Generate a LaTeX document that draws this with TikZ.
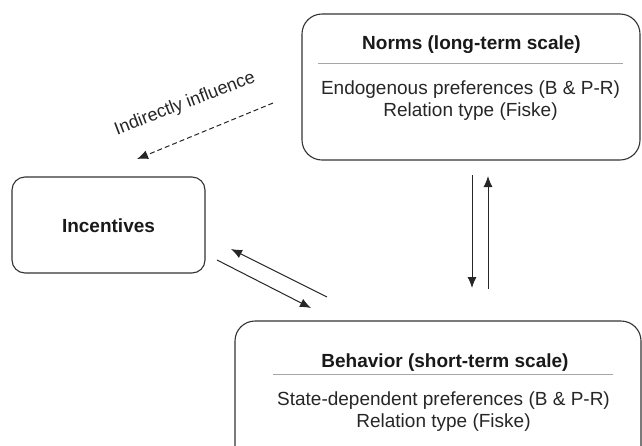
\documentclass[tikz,border=0pt]{standalone}
\usepackage{fontspec}
\setmainfont{Liberation Sans}
\usetikzlibrary{arrows.meta}
\tikzset{
  box/.style={draw=black!80, line width=1.1pt, inner sep=0pt},
  heading/.style={font=\fontsize{19}{23}\selectfont\bfseries, text=black!90, anchor=base},
  body/.style={font=\fontsize{19}{22}\selectfont, text=black!85, anchor=base},
  sepline/.style={draw=black!35, line width=0.8pt},
  flow/.style={-{Latex[length=11pt,width=9pt]}, line width=1pt, draw=black!85},
}
\begin{document}
\begin{tikzpicture}[x=1pt,y=-1pt]
 \useasboundingbox (0,0) rectangle (642,445);
 %
 \node[box, rounded corners=20pt, minimum width=338pt, minimum height=146pt] (norms) at (471,87) {};
 \node[heading] (normstitle) at (471.5,49) {Norms (long-term scale)};
 \draw[sepline] (318,63) -- (623,63);
 \node[body] (normsa) at (470.5,94) {Endogenous preferences (B \& P-R)};
 \node[body] (normsb) at (470.5,116) {Relation type (Fiske)};
 %
 \node[box, rounded corners=13pt, minimum width=193pt, minimum height=96pt] (incentives) at (108.5,225) {};
 \node[heading] (incentivestitle) at (108.5,232) {Incentives};
 %
 \node[box, rounded corners=20pt, minimum width=406pt, minimum height=149pt] (behavior) at (438,395.5) {};
 \node[heading] (behaviortitle) at (445,367) {Behavior (short-term scale)};
 \draw[sepline] (273,374) -- (613,374);
 \node[body] (behaviora) at (443.5,405) {State-dependent preferences (B \& P-R)};
 \node[body] (behaviorb) at (443.5,427) {Relation type (Fiske)};
 %
 \coordinate (nb1) at (472,175);
 \coordinate (nb2) at (472,288);
 \coordinate (bn1) at (488,289);
 \coordinate (bn2) at (488,176);
 \coordinate (ib1) at (217,260);
 \coordinate (ib2) at (311,308);
 \coordinate (bi1) at (327,297);
 \coordinate (bi2) at (231,249);
 \coordinate (ni1) at (273,103);
 \coordinate (ni2) at (137,159);
 %
 \draw[flow] (nb1) -- (nb2);
 \draw[flow] (bn1) -- (bn2);
 \draw[flow] (ib1) -- (ib2);
 \draw[flow] (bi1) -- (bi2);
 \draw[flow, dash pattern=on 5pt off 3pt] (ni1) -- (ni2);
 %
 \node[font=\fontsize{18}{21}\selectfont, text=black!85, rotate=21] (indirect) at (185,104) {Indirectly influence};
\end{tikzpicture}
\end{document}
